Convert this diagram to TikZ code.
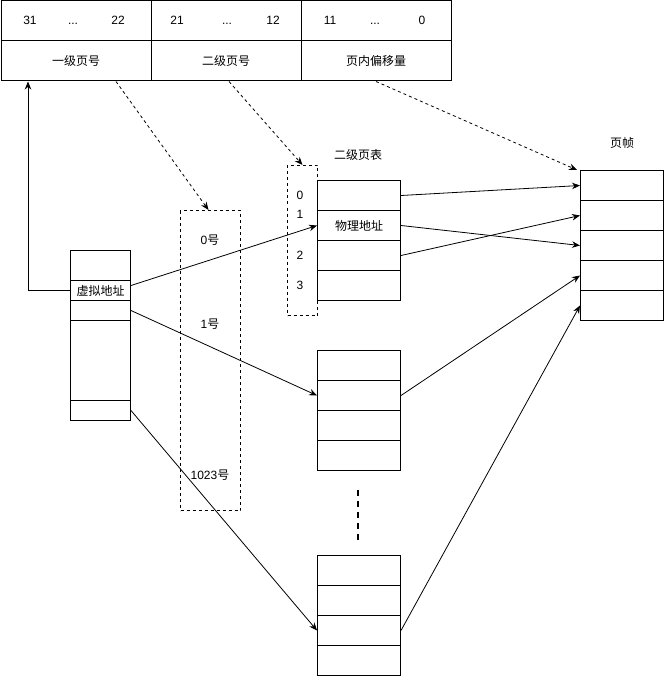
\documentclass[tikz,border=0pt]{standalone}
\usepackage{fontspec}
\setmainfont{Liberation Sans}
\newfontfamily\cjk{Noto Sans CJK SC}
\usetikzlibrary{arrows.meta}
\begin{document}
\begin{tikzpicture}[x=1pt,y=-1pt,
  font=\fontsize{12}{14}\selectfont,
  cell/.style={draw,line width=1pt,anchor=north west,inner sep=0pt,minimum width=#1,font=\fontsize{12}{14}\selectfont\cjk},
  cell/.default=60pt,
  dbox/.style={draw,dashed,line width=1pt,anchor=north west,inner sep=0pt},
  txt/.style={inner sep=0pt},
  arr/.style={line width=0.8pt,-{Stealth[length=8pt,width=6.5pt]}},
  darr/.style={line width=0.8pt,dash pattern=on 3pt off 3pt,-{Stealth[length=8pt,width=6.5pt]}}]
\useasboundingbox (0,0) rectangle (665,676);
% top table
\node[cell=150pt,minimum height=40pt] (t1a) at (0.5,0.5) {};
\node[cell=150pt,minimum height=40pt] (t2a) at (150.5,0.5) {};
\node[cell=150pt,minimum height=40pt] (t3a) at (300.5,0.5) {};
\node[cell=150pt,minimum height=40pt] (t1b) at (0.5,40.5) {一级页号};
\node[cell=150pt,minimum height=40pt] (t2b) at (150.5,40.5) {二级页号};
\node[cell=150pt,minimum height=40pt] (t3b) at (300.5,40.5) {页内偏移量};
\node[txt] (n31) at (30,20) {31};
\node[txt] (d1) at (73,20) {\vphantom{0}...};
\node[txt] (n22) at (118,20) {22};
\node[txt] (n21) at (177,20) {21};
\node[txt] (d2) at (227,20) {\vphantom{0}...};
\node[txt] (n12) at (273,20) {12};
\node[txt] (n11) at (330,20) {11};
\node[txt] (d3) at (375,20) {\vphantom{0}...};
\node[txt] (n0) at (422,20) {0};
% virtual address table
\node[cell,minimum height=30pt] (v1) at (70,250) {};
\node[cell,minimum height=20pt] (v2) at (70,280) {虚拟地址};
\node[cell,minimum height=20pt] (v3) at (70,300) {};
\node[cell,minimum height=80pt] (v4) at (70,320) {};
\node[cell,minimum height=20pt] (v5) at (70,400) {};
% first level page table (dashed)
\node[dbox,minimum width=60pt,minimum height=300pt] (l1) at (180,210) {};
\node[txt] (p0) at (210,240) {0{\cjk 号}};
\node[txt] (p1) at (210,324) {1{\cjk 号}};
\node[txt] (p1023) at (210,475) {1023{\cjk 号}};
% index box (dashed)
\node[dbox,minimum width=30pt,minimum height=150pt] (l2) at (287,165) {};
\node[txt] (i0) at (300,195) {0};
\node[txt] (i1) at (300,214) {1};
\node[txt] (i2) at (300,255) {2};
\node[txt] (i3) at (300,285) {3};
% second level tables
\node[txt,font=\fontsize{12}{14}\selectfont\cjk] (lab2) at (358,155) {二级页表};
\node[cell=83pt,minimum height=30pt] (a1) at (317,180) {};
\node[cell=83pt,minimum height=30pt] (a2) at (317,210) {物理地址};
\node[cell=83pt,minimum height=30pt] (a3) at (317,240) {};
\node[cell=83pt,minimum height=30pt] (a4) at (317,270) {};
\node[cell=83pt,minimum height=30pt] (b1) at (317,350) {};
\node[cell=83pt,minimum height=30pt] (b2) at (317,380) {};
\node[cell=83pt,minimum height=30pt] (b3) at (317,410) {};
\node[cell=83pt,minimum height=30pt] (b4) at (317,440) {};
\node[cell=83pt,minimum height=30pt] (c1) at (317,555) {};
\node[cell=83pt,minimum height=30pt] (c2) at (317,585) {};
\node[cell=83pt,minimum height=30pt] (c3) at (317,615) {};
\node[cell=83pt,minimum height=30pt] (c4) at (317,645) {};
% page frames
\node[txt,font=\fontsize{12}{14}\selectfont\cjk] (lab3) at (622,143) {页帧};
\node[cell=83pt,minimum height=30pt] (f1) at (580,170) {};
\node[cell=83pt,minimum height=30pt] (f2) at (580,200) {};
\node[cell=83pt,minimum height=30pt] (f3) at (580,230) {};
\node[cell=83pt,minimum height=30pt] (f4) at (580,260) {};
\node[cell=83pt,minimum height=30pt] (f5) at (580,290) {};
% ellipsis
\coordinate (e1) at (358,490);
\coordinate (e2) at (358,540);
\draw[line width=1.5pt,dash pattern=on 6pt off 5pt] (e1) -- (e2);
% connectors
\draw[arr] (v2.west) -| ([xshift=27.5pt]t1b.south west);
\draw[darr] ([xshift=40pt]t1b.south) -- ([xshift=-2pt]l1.north);
\draw[darr] ([xshift=3pt]t2b.south) -- (l2.north);
\draw[darr] (t3b.south) -- ([xshift=-3pt]f1.north west);
\draw[arr] ([yshift=5pt]v2.east) -- (a2.west);
\draw[arr] (v3.east) -- (b2.west);
\draw[arr] (v5.east) -- (c3.west);
\draw[arr] (a1.east) -- (f1.west);
\draw[arr] (a2.east) -- (f3.west);
\draw[arr] (a3.east) -- (f2.west);
\draw[arr] (b2.east) -- (f4.west);
\draw[arr] (c3.east) -- (f5.west);
\end{tikzpicture}
\end{document}
